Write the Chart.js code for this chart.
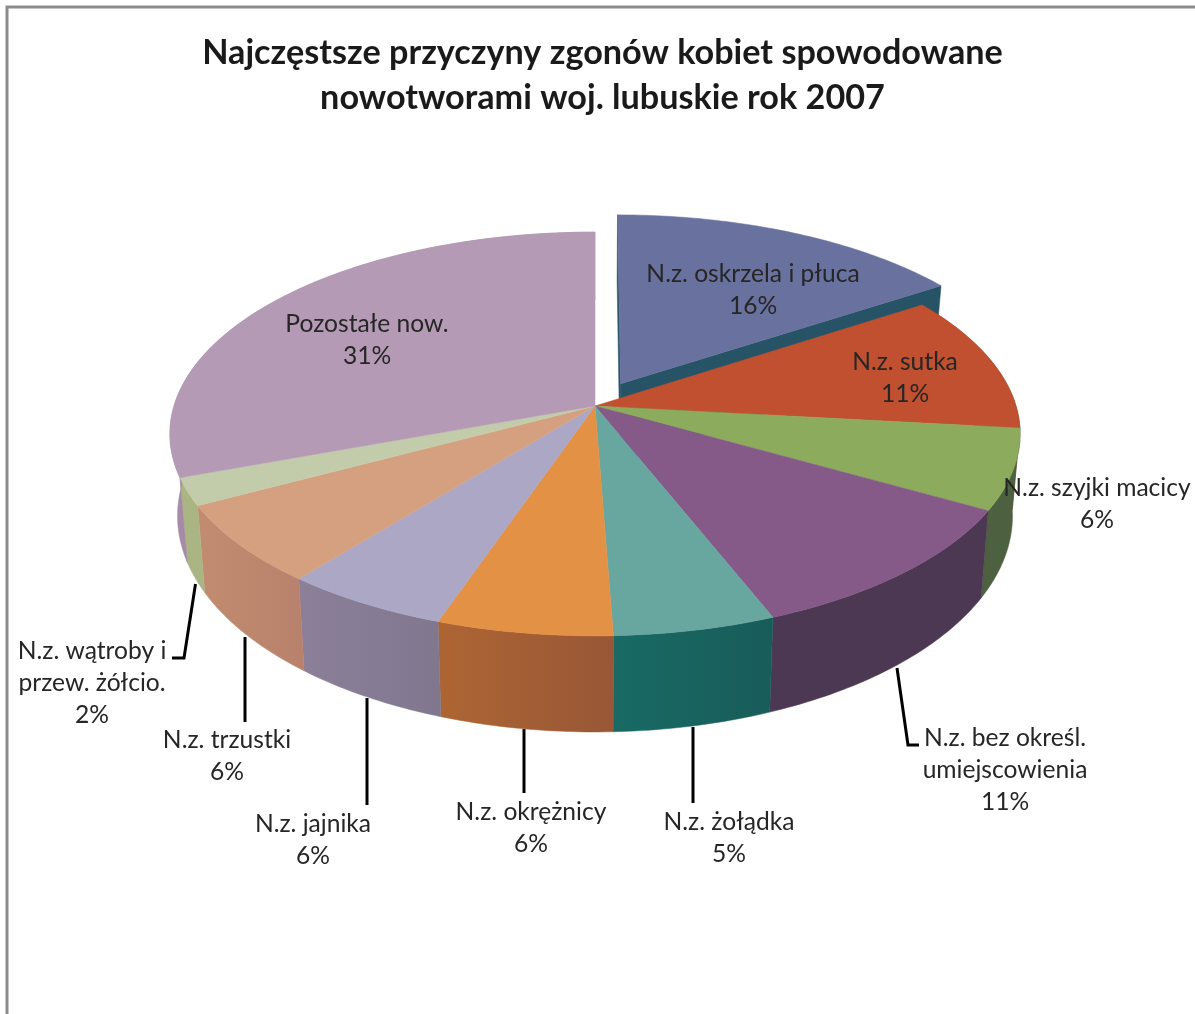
<!DOCTYPE html>
<html lang="pl">
<head>
<meta charset="utf-8">
<title>Najczęstsze przyczyny zgonów kobiet</title>
<script src="https://cdn.jsdelivr.net/npm/chart.js@4"></script>
<style>
    html, body { margin: 0; padding: 0; background: #fff; overflow: hidden; }
    canvas { display: block; }
</style>
</head>
<body>
<canvas id="pie3d" width="1195" height="1014"></canvas>
<script>
const titleLines = ['Najczęstsze przyczyny zgonów kobiet spowodowane', 'nowotworami woj. lubuskie rok 2007'];
const categories = [
    ['N.z. oskrzela i płuca'],
    ['N.z. sutka'],
    ['N.z. szyjki macicy'],
    ['N.z. bez określ.', 'umiejscowienia'],
    ['N.z. żołądka'],
    ['N.z. okrężnicy'],
    ['N.z. jajnika'],
    ['N.z. trzustki'],
    ['N.z. wątroby i', 'przew. żółcio.'],
    ['Pozostałe now.'],
];
const shares = [15.75, 11, 6.45, 10.8, 5.4, 5.85, 5.55, 6.4, 2.2, 30.6];

const topColors = ['#69719f', '#c05030', '#8cab5c', '#855988', '#68a6a0', '#e29145', '#aba7c4', '#d4a080', '#c3ccaa', '#b59ab5'];
const wallColors = [
    ['#275367', '#275367'], ['#8a3a22', '#8a3a22'], ['#4d6040', '#4d6040'], ['#4d3853', '#4d3853'], ['#186a64', '#185c5a'],
    ['#ad6532', '#995737'], ['#8c8099', '#80778f'], ['#c28c70', '#b8816c'], ['#aab584', '#aab584'], ['#a58ba5', '#a58ba5'],
];

// where each label sits (centre x, first line y) and its leader line
const labelSpots = [[753, 274], [905, 362], [1097, 488], [1005, 738], [729, 822], [531, 812], [313, 824], [227, 740], [92, 651], [367, 324]];
const leaders = [
    [[195.5, 584], [184, 658], [172, 658]],
    [[245, 637], [245, 722]],
    [[367, 698], [367, 805]],
    [[524, 729], [524, 793]],
    [[693, 727], [693, 803]],
    [[897, 668], [908, 745], [919, 745]],
];

// perspective of the pie plane, fitted to the picture
const cx = 595, cy = 406, radX = 421, radY = 198, tilt = 0.1386;
const explode = 0.13;

function project(u, v) {
    const w = 1 - tilt * v;
    return { x: cx + radX * u / w, y: cy + radY * v / w };
}

function lower(p) {
    return { x: cx + (p.x - cx) * 0.982, y: cy + 80 + (p.y - cy) * 1.07 };
}

function rim(el, ou, ov) {
    const pts = [];
    const steps = Math.max(2, Math.ceil((el.endAngle - el.startAngle) / 0.015));
    for (let k = 0; k <= steps; k++) {
        const a = el.startAngle + (el.endAngle - el.startAngle) * k / steps;
        pts.push(project(Math.cos(a) + ou, Math.sin(a) + ov));
    }
    return pts;
}

function fillPath(ctx, pts, fill) {
    ctx.beginPath();
    pts.forEach((p, k) => (k ? ctx.lineTo(p.x, p.y) : ctx.moveTo(p.x, p.y)));
    ctx.closePath();
    ctx.fillStyle = fill;
    ctx.fill();
    ctx.strokeStyle = fill;
    ctx.lineWidth = 0.5;
    ctx.stroke();
}

function drawWall(ctx, pts, colors) {
    const xs = pts.map(p => p.x);
    const grad = ctx.createLinearGradient(Math.min(...xs), 0, Math.max(...xs), 0);
    grad.addColorStop(0, colors[0]);
    grad.addColorStop(1, colors[1]);
    fillPath(ctx, pts, grad);
}

const pie3dPlugin = {
    id: 'pie3d',
    beforeDatasetsDraw(chart) {
        const ctx = chart.ctx;
        const arcs = chart.getDatasetMeta(0).data;

        ctx.save();
        ctx.strokeStyle = '#8c8c8c';
        ctx.lineWidth = 3;
        ctx.beginPath();
        ctx.moveTo(1195, 7);
        ctx.lineTo(7, 7);
        ctx.lineTo(7, 1014);
        ctx.stroke();

        ctx.strokeStyle = '#000';
        ctx.lineWidth = 3;
        leaders.forEach(line => {
            ctx.beginPath();
            line.forEach((p, k) => (k ? ctx.lineTo(p[0], p[1]) : ctx.moveTo(p[0], p[1])));
            ctx.stroke();
        });

        // the pulled out slice goes first, its cut faces show past the neighbour
        const mid = (arcs[0].startAngle + arcs[0].endAngle) / 2;
        const ou = Math.cos(mid) * explode, ov = Math.sin(mid) * explode;
        const apex = project(ou, ov);
        const edge = rim(arcs[0], ou, ov);
        [edge[0], edge[edge.length - 1]].forEach(p => {
            drawWall(ctx, [apex, p, lower(p), lower(apex)], wallColors[0]);
        });
        fillPath(ctx, [apex, ...edge], arcs[0].options.backgroundColor);

        for (let i = 1; i < arcs.length; i++) {
            const top = rim(arcs[i], 0, 0);
            drawWall(ctx, [...top, ...top.map(lower).reverse()], wallColors[i]);
        }
        const center = project(0, 0);
        for (let i = 1; i < arcs.length; i++) {
            fillPath(ctx, [center, ...rim(arcs[i], 0, 0)], arcs[i].options.backgroundColor);
        }

        ctx.fillStyle = '#262626';
        ctx.font = '24.6px Lato';
        ctx.textAlign = 'center';
        ctx.textBaseline = 'middle';
        categories.forEach((lines, i) => {
            const spot = labelSpots[i];
            [...lines, Math.round(shares[i]) + '%'].forEach((text, k) => {
                ctx.fillText(text, spot[0], spot[1] + k * 32);
            });
        });
        ctx.restore();
        return false;
    },
};

new Chart(document.getElementById('pie3d').getContext('2d'), {
    type: 'pie',
    data: {
        labels: categories.map(c => c.join(' ')),
        datasets: [{ data: shares, backgroundColor: topColors, borderWidth: 0 }],
    },
    options: {
        responsive: false,
        animation: false,
        layout: { padding: { left: 10 } },
        plugins: {
            legend: { display: false },
            tooltip: { enabled: false },
            title: {
                display: true,
                text: titleLines,
                color: '#1a1a1a',
                font: { family: 'Lato', size: 34.2, weight: 'bold', lineHeight: 1.32 },
                padding: { top: 30, bottom: 10 },
            },
        },
    },
    plugins: [pie3dPlugin],
});
</script>
</body>
</html>
